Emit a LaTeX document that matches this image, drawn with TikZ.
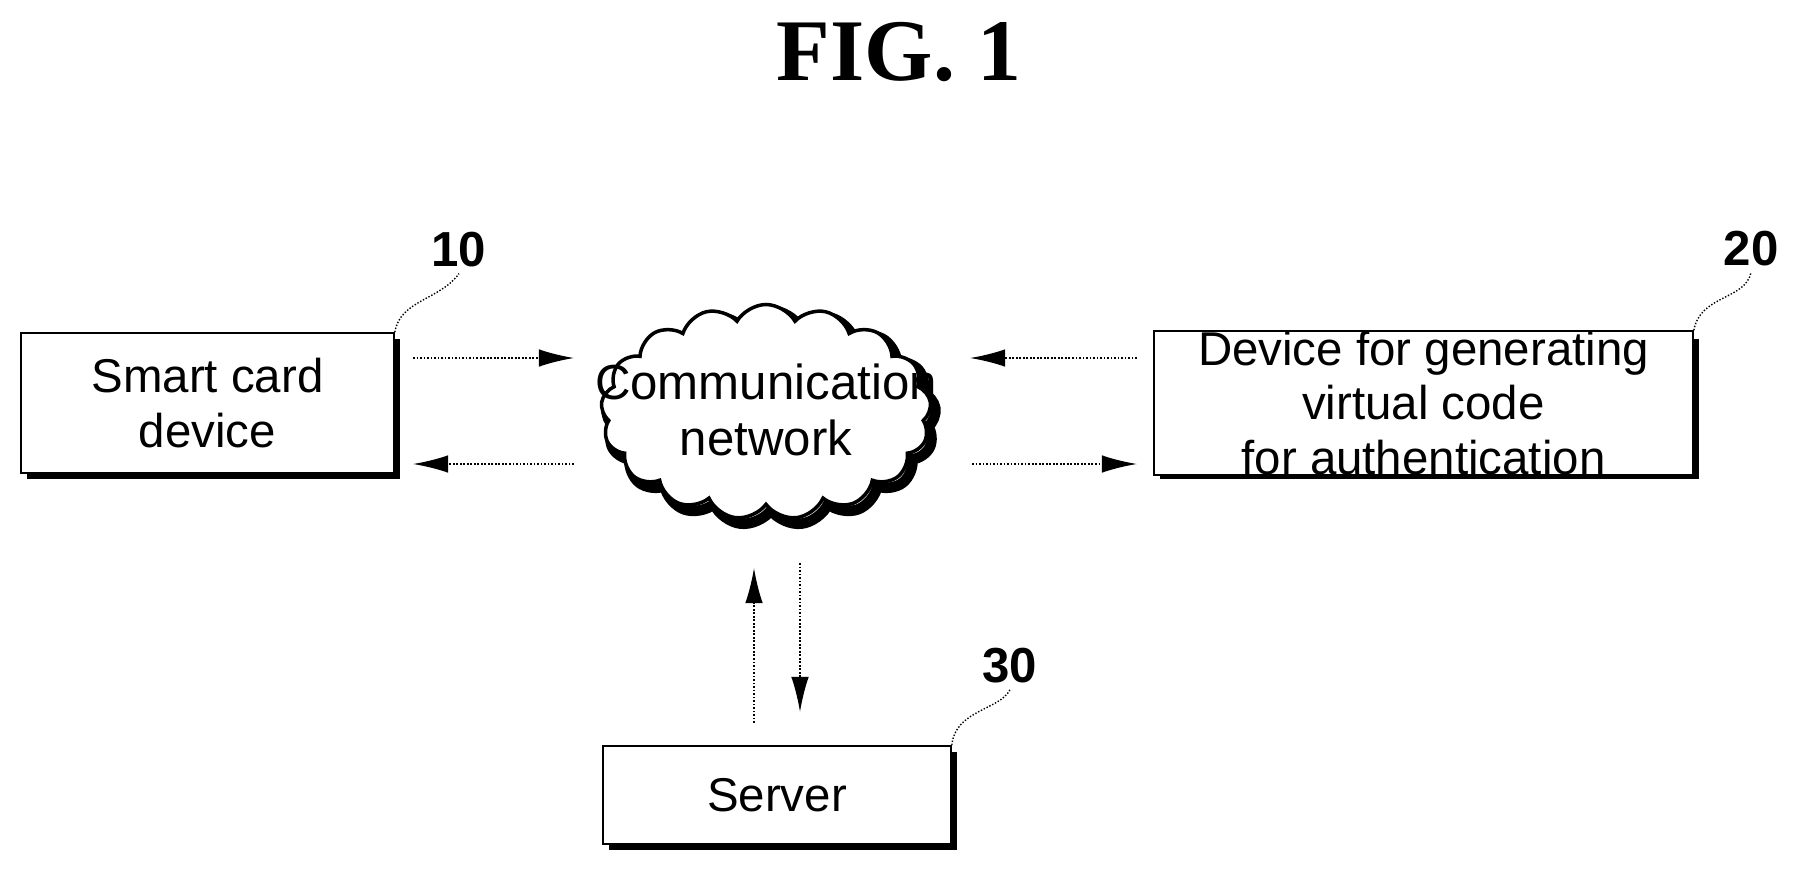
\documentclass[tikz,border=0pt]{standalone}
\usepackage{fontspec}
\setmainfont{Liberation Sans}
\newfontfamily\titlefont{Liberation Serif}
\usetikzlibrary{shapes.symbols,arrows.meta}
\begin{document}
\begin{tikzpicture}[x=0.02cm,y=-0.02cm,
  box/.style={draw,line width=1pt,fill=white,inner sep=0pt,font=\fontsize{27}{31}\selectfont,align=center},
  shad/.style={fill=black},
  lbl/.style={font=\bfseries\fontsize{28}{30}\selectfont},
  lead/.style={densely dotted,line width=0.8pt},
  conn/.style={densely dotted,line width=1pt,-{Latex[length=20pt,width=10pt]}},
  cl/.style={cloud,cloud puffs=17,cloud puff arc=120,aspect=1.45,minimum width=330*0.02cm,minimum height=215*0.02cm,inner sep=0pt}]
\useasboundingbox (0,0) rectangle (1800,869);
\node[font=\titlefont\bfseries\fontsize{50}{55}\selectfont] (title) at (899,52) {FIG. 1};
% shadows
\fill[shad] (27,339) rectangle (400,479);
\fill[shad] (1160,339) rectangle (1699,479);
\fill[shad] (609,752) rectangle (957,850);
% boxes
\node[box,minimum width=373*0.02cm,minimum height=140*0.02cm] (card) at (207.5,403) {Smart card\\device};
\node[box,minimum width=539*0.02cm,minimum height=140*0.02cm] (dev) at (1423.5,403) {Device for generating\\virtual code\\for authentication};
\node[box,minimum width=348*0.02cm,minimum height=98*0.02cm] (srv) at (777,795) {Server};
% cloud
\node[cl,draw,line width=6pt] (netshadow) at (771,418) {};
\node[cl,draw,fill=white,line width=2pt] (net) at (766,412) {};
\node[font=\fontsize{28}{32}\selectfont,align=center] (nettext) at (766,410) {Communication\\network};
% labels
\node[lbl] (l10) at (459,250) {10};
\node[lbl] (l20) at (1751,249) {20};
\node[lbl] (l30) at (1010,666) {30};
\draw[lead] (card.north east) .. controls (400,300) and (440,300) .. (l10.south);
\draw[lead] (dev.north east) .. controls (1700,295) and (1745,300) .. (l20.south);
\draw[lead] (srv.north east) .. controls (955,710) and (1000,710) .. (l30.south);
% connectors
\coordinate (a1) at (413,358); \coordinate (a2) at (574,358);
\coordinate (b1) at (574,464); \coordinate (b2) at (413,464);
\coordinate (c1) at (1137,358); \coordinate (c2) at (970,358);
\coordinate (d1) at (972,464); \coordinate (d2) at (1137,464);
\coordinate (e1) at (754,723); \coordinate (e2) at (754,568);
\coordinate (f1) at (800,563); \coordinate (f2) at (800,712);
\draw[conn] (a1) -- (a2);
\draw[conn] (b1) -- (b2);
\draw[conn] (c1) -- (c2);
\draw[conn] (d1) -- (d2);
\draw[conn] (e1) -- (e2);
\draw[conn] (f1) -- (f2);
\end{tikzpicture}
\end{document}
